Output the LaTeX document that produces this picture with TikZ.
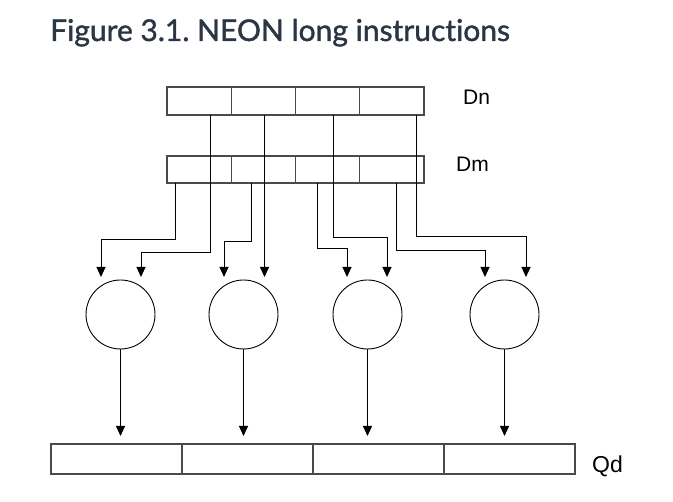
\documentclass[tikz,border=0pt]{standalone}
\usepackage{fontspec}
\setmainfont{Liberation Sans}
\newfontfamily\latofont{Lato}[UprightFeatures={FakeBold=1.3}, Ligatures=NoCommon]
\usetikzlibrary{arrows.meta}
\definecolor{titlecol}{HTML}{2B3644}
\definecolor{boxcol}{HTML}{4A4A4A}
\frenchspacing
\begin{document}
\begin{tikzpicture}[x=1pt,y=-1pt,
  cell/.style={draw=boxcol, line width=1.2pt, minimum width=64.25pt, minimum height=28pt, inner sep=0pt, outer sep=0pt},
  qcell/.style={draw=boxcol, line width=1.2pt, minimum width=131pt, minimum height=30pt, inner sep=0pt, outer sep=0pt},
  op/.style={draw=black, line width=0.9pt, circle, minimum size=69pt, inner sep=0pt, outer sep=0pt},
  wire/.style={draw=black, line width=0.9pt, -{Triangle[width=9pt,length=10pt]}},
  reglabel/.style={font=\fontsize{21}{24}\selectfont, inner sep=0pt, anchor=base west},
  titletext/.style={font=\latofont\fontsize{30}{34}\selectfont, text=titlecol, inner sep=0pt, anchor=base west}]
\useasboundingbox (0,0) rectangle (673,502);
\node[titletext] (title) at (50,41) {Figure 3.1. NEON long instructions};
% Dn and Dm registers
\foreach \i/\x in {1/199.125,2/263.375,3/327.625,4/391.875}{
  \node[cell] (n\i) at (\x,101) {};
  \node[cell, minimum height=27pt] (m\i) at (\x,169.5) {};
}
\node[reglabel] (dnl) at (463,105) {Dn};
\node[reglabel] (dml) at (456,172) {Dm};
% operators
\node[op] (c1) at (120.5,314.5) {};
\node[op] (c2) at (243.5,314.5) {};
\node[op] (c3) at (367.5,314.5) {};
\node[op] (c4) at (504.5,314.5) {};
% arrow tips
\coordinate (a1l) at (101,277);
\coordinate (a1r) at (141,277);
\coordinate (a2l) at (224,277);
\coordinate (a2r) at (264.5,277);
\coordinate (a3l) at (347,277);
\coordinate (a3r) at (387,277);
\coordinate (a4l) at (485,277);
\coordinate (a4r) at (526,277);
% Qd register
\foreach \i/\x in {1/116.5,2/247.5,3/378.5,4/509.5}{
  \node[qcell] (q\i) at (\x,459) {};
}
\node[reglabel, font=\fontsize{23}{26}\selectfont] (qdl) at (592,473) {Qd};
% connectors from Dn
\draw[wire] ([xshift=10.9pt]n1.south) |- ([yshift=25pt]a1r) -- (a1r);
\draw[wire] (n2.south -| a2r) -- (a2r);
\draw[wire] ([xshift=5.4pt]n3.south) |- ([yshift=40pt]a3r) -- (a3r);
\draw[wire] ([xshift=24.1pt]n4.south) |- ([yshift=41pt]a4r) -- (a4r);
% connectors from Dm
\draw[wire] ([xshift=-24.1pt]m1.south) |- ([yshift=38pt]a1l) -- (a1l);
\draw[wire] ([xshift=-12.4pt]m2.south) |- ([yshift=36pt]a2l) -- (a2l);
\draw[wire] ([xshift=-10.6pt]m3.south) |- ([yshift=29pt]a3l) -- (a3l);
\draw[wire] ([xshift=4.1pt]m4.south) |- ([yshift=27pt]a4l) -- (a4l);
% outputs
\foreach \i in {1,2,3,4}{
  \draw[wire, shorten >=8pt] (c\i.south) -- (c\i.south |- q\i.north);
}
\end{tikzpicture}
\end{document}
